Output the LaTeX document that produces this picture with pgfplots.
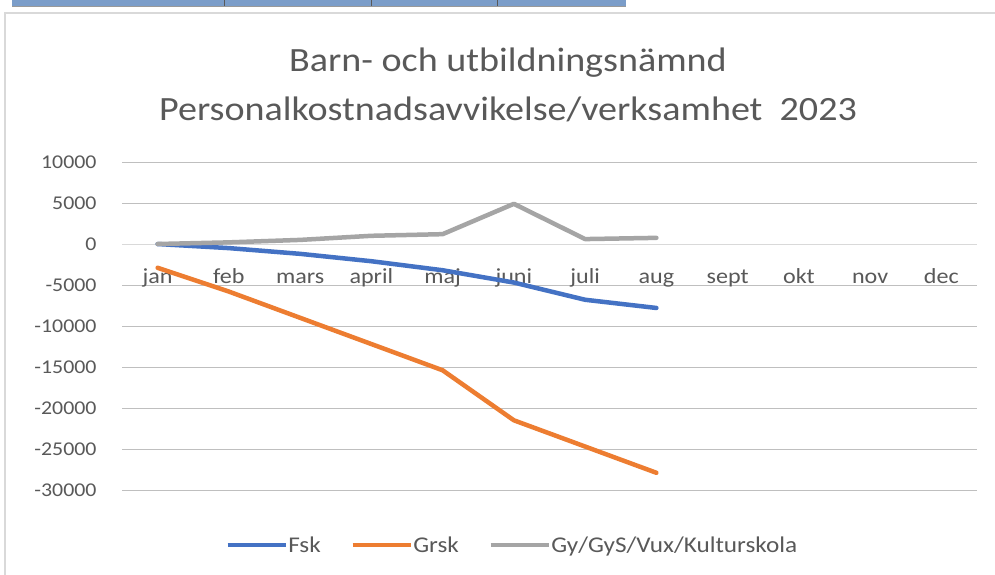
\documentclass[border=0pt]{standalone}
\usepackage{pgfplots}
\pgfplotsset{compat=1.18}
\usepackage{fontspec}
\setmainfont[FakeStretch=1.12]{Carlito}
\definecolor{txt}{HTML}{595959}
\definecolor{grid}{HTML}{D9D9D9}
\definecolor{cblue}{HTML}{4472C4}
\definecolor{corange}{HTML}{ED7D31}
\definecolor{cgray}{HTML}{A5A5A5}
\definecolor{barblue}{HTML}{7B9DC9}
\begin{document}
\begin{tikzpicture}[x=1pt,y=1pt]
\path[use as bounding box] (0,0) rectangle (995,-575);
\fill[white] (0,0) rectangle (995,-575);
% top strip
\fill[barblue] (12,0) rectangle (626,-6);
\draw[gray!80, line width=1.2pt] (12,-6.5) -- (626,-6.5);
\foreach \xx in {224,371,497} \draw[gray!70!black, line width=0.6pt] (\xx,0) -- (\xx,-6);
% chart border
\draw[grid, line width=1.2pt] (5,-580) -- (5,-13) -- (1000,-13);
% title
\node[text=txt, font=\fontsize{34}{40}\selectfont] at (508,-63) {Barn- och utbildningsnämnd};
\node[text=txt, font=\fontsize{34}{40}\selectfont] at (508,-109) {Personalkostnadsavvikelse/verksamhet\ \ 2023};
\begin{axis}[
  at={(122pt,-490pt)}, anchor=south west,
  scale only axis, width=855pt, height=328pt,
  xmin=-0.5, xmax=11.5, ymin=-30000, ymax=10000,
  axis x line=middle, axis y line=left,
  x axis line style={grid, line width=1pt, -},
  y axis line style={draw=none, -},
  xtick={0,...,11},
  xticklabels={jan,feb,mars,april,maj,juni,juli,aug,sept,okt,nov,dec},
  ytick={-30000,-25000,...,10000},
  scaled y ticks=false,
  major tick length=0pt,
  xtick style={draw=none}, ytick style={draw=none},
  xmajorgrids=false, ymajorgrids, grid style={grid, line width=1pt},
  tick label style={text=txt, font=\fontsize{21.5}{24}\selectfont},
  every x tick label/.append style={anchor=base, yshift=-39pt},
  every y tick label/.append style={xshift=-22pt, font=\fontsize{19.5}{22}\selectfont},
  /pgf/number format/.cd, 1000 sep={}, assume math mode=true,
  /pgfplots/.cd,
  legend columns=3,
  legend style={draw=none, fill=none, at={(0.4556,-0.1677)}, anchor=center,
    font=\fontsize{22.5}{26}\selectfont, text=txt,
    /tikz/every even column/.append style={column sep=29pt},
    /tikz/every node/.append style={inner xsep=0.5pt},
    inner sep=0pt},
  legend image code/.code={\draw[#1, line width=4.5pt, line cap=butt] (0pt,0pt) -- (58pt,0pt);},
  legend cell align=left,
  clip=false,
]
\addplot[cblue, line width=4.5pt, line join=round, line cap=round] coordinates {
(0,0) (1,-500) (2,-1200) (3,-2100) (4,-3200) (5,-4700) (6,-6800) (7,-7800)};
\addlegendentry{Fsk}
\addplot[corange, line width=4.5pt, line join=round, line cap=round] coordinates {
(0,-2900) (1,-5800) (2,-9000) (3,-12200) (4,-15400) (5,-21500) (6,-24700) (7,-27900)};
\addlegendentry{Grsk}
\addplot[cgray, line width=4.5pt, line join=round, line cap=round] coordinates {
(0,0) (1,200) (2,500) (3,1000) (4,1200) (5,4900) (6,600) (7,750)};
\addlegendentry{Gy/GyS/Vux/Kulturskola}
\end{axis}
\end{tikzpicture}
\end{document}
